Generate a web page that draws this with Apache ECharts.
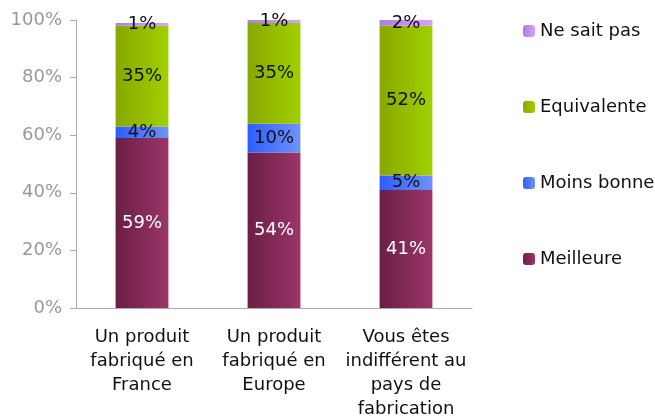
<!DOCTYPE html>
<html>
	<head>
		<meta charset="utf-8">
		<title></title>
		<style>
			body{margin:0;}
			#main{width:655px;height:416px;}
		</style>
	</head>
	<body>
		<div id="main"></div>
		<script src="https://cdn.jsdelivr.net/npm/echarts@6/dist/echarts.min.js"></script>
		<script>
			var categories=["Un produit\nfabriqué en\nFrance","Un produit\nfabriqué en\nEurope","Vous êtes\nindifférent au\npays de\nfabrication"]
			var meilleure=[59,54,41]
			var moinsBonne=[4,10,5]
			var equivalente=[35,35,52]
			var neSaitPas=[1,1,2]
			var yTicks=[0,20,40,60,80,100]

			function grad(a,b){
				return new echarts.graphic.LinearGradient(0,0,1,0,[{offset:0,color:a},{offset:1,color:b}])
			}
			function serie(name,data,c1,c2,labelColor){
				return {
					name:name,type:'bar',stack:'t',data:data,barWidth:'40%',
					itemStyle:{color:grad(c1,c2)},
					label:{show:true,position:'inside',formatter:'{c}%',color:labelColor,
						fontFamily:'DejaVu Sans',fontSize:18}
				}
			}

			var mychart=echarts.init(document.getElementById("main"))
			var option={
				animation:false,
				textStyle:{fontFamily:'DejaVu Sans'},
				grid:{left:76,right:183,top:20,bottom:108,outerBoundsMode:'none',containLabel:false},
				legend:{
					orient:'vertical',left:518,top:17,itemGap:58,
					itemWidth:12,itemHeight:12,
					data:['Ne sait pas','Equivalente','Moins bonne','Meilleure'],
					textStyle:{fontSize:18,color:'#111',fontFamily:'DejaVu Sans'}
				},
				xAxis:{
					type:'category',data:categories,
					axisLine:{lineStyle:{color:'#aaa'}},
					axisTick:{length:5,lineStyle:{color:'#aaa'}},
					axisLabel:{fontSize:18,color:'#111',lineHeight:24,margin:17,interval:0}
				},
				yAxis:{
					type:'value',min:0,max:100,interval:20,
					axisLine:{show:true,lineStyle:{color:'#aaa'}},
					axisTick:{show:true,length:6,lineStyle:{color:'#aaa'}},
					splitLine:{show:false},
					axisLabel:{fontSize:18,color:'#999',margin:14,
						formatter:function(v){return yTicks.indexOf(v)>=0?v+'%':''}}
				},
				series:[
					serie('Meilleure',meilleure,'#6a1f45','#9b3568','#fff'),
					serie('Moins bonne',moinsBonne,'#2e5dff','#6e92ff','#111'),
					serie('Equivalente',equivalente,'#88a800','#a0d000','#111'),
					serie('Ne sait pas',neSaitPas,'#b07fd8','#d5a3ff','#111')
				]
			};
			mychart.setOption(option);
		</script>
	</body>
</html>
